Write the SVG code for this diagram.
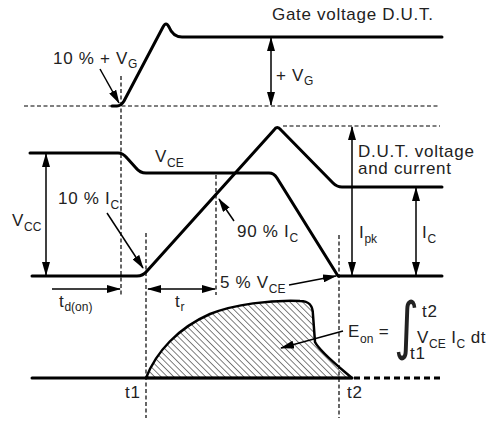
<svg xmlns="http://www.w3.org/2000/svg" width="492" height="422" viewBox="0 0 492 422">
<style>
.w{fill:none;stroke:#000;stroke-width:3;stroke-linejoin:round;stroke-linecap:round}
.d{fill:none;stroke:#000;stroke-width:1.2;stroke-dasharray:4 2.5}
.a{fill:none;stroke:#000;stroke-width:1.5;marker-end:url(#ah)}
.a2{fill:none;stroke:#000;stroke-width:1.5;marker-start:url(#ah);marker-end:url(#ah)}
text{font-family:"Liberation Sans",Arial,sans-serif;font-size:17px;fill:#222;letter-spacing:0.7px}
.s{font-size:12px;letter-spacing:0}
</style>
<defs>
<marker id="ah" markerUnits="userSpaceOnUse" markerWidth="14" markerHeight="8" refX="13" refY="4" orient="auto-start-reverse">
<path d="M0,0 L14,4 L0,8 Z" fill="#000"/>
</marker>
<pattern id="hatch" patternUnits="userSpaceOnUse" width="4.5" height="6" patternTransform="rotate(-45)">
<line x1="0" y1="0" x2="0" y2="6" stroke="#000" stroke-width="1"/>
</pattern>
</defs>

<g id="guides">
<line class="d" x1="24" y1="106" x2="440" y2="106"/>
<line class="d" x1="283" y1="126" x2="440" y2="126"/>
<line class="d" x1="121" y1="76" x2="121" y2="297"/>
<line class="d" x1="146" y1="233" x2="146" y2="418"/>
<line class="d" x1="216" y1="175" x2="216" y2="295"/>
<line class="d" x1="339" y1="235" x2="339" y2="418"/>
</g>

<g id="gate-voltage">
<path class="w" d="M112,106 L117,106 Q121,106 124,101 L163,27 Q166,21 169,27 Q173,37 182,37 L442,37"/>
</g>

<g id="vce">
<path class="w" d="M30,153 L118,153 Q123,153 127,158 L136,168 Q140,173 146,173 L269,173 Q274,173 277,178 L338,276 L442,276"/>
</g>

<g id="ic">
<path class="w" d="M32,276 L137,276 Q143,276 147,271 L274,130 Q277,125 281,130 L333,183 Q337,187 342,187 L442,187"/>
</g>

<g id="energy">
<path d="M146,378 C156,352 178,328 210,314 C235,304 270,300 300,301 C310,301 313,306 313,315 L315,342 C320,352 338,366 352,378 Z" fill="url(#hatch)" stroke="#000" stroke-width="2.5" stroke-linejoin="round"/>
<line class="w" x1="32" y1="378" x2="352" y2="378"/>
<line x1="354" y1="378" x2="440" y2="378" stroke="#000" stroke-width="3" stroke-dasharray="6 4"/>
</g>

<g id="connectors">
<line class="a2" x1="271" y1="38" x2="271" y2="105"/>
<line class="a2" x1="46" y1="154" x2="46" y2="275"/>
<line class="a2" x1="352" y1="127" x2="352" y2="275"/>
<line class="a2" x1="416" y1="188" x2="416" y2="275"/>
<line class="a2" x1="148" y1="289" x2="215" y2="289"/>
<line class="a" x1="52" y1="289" x2="120" y2="289"/>
<line class="a" x1="100" y1="69" x2="119" y2="103"/>
<line class="a" x1="107" y1="213" x2="143" y2="268"/>
<line class="a" x1="234" y1="221" x2="219" y2="199"/>
<line class="a" x1="289" y1="285" x2="336" y2="276"/>
<line class="a" x1="343" y1="331" x2="281" y2="348"/>
</g>

<g id="labels">
<text x="272" y="20">Gate voltage D.U.T.</text>
<text x="53" y="64">10 % + V<tspan class="s" dy="4">G</tspan></text>
<text x="276" y="81">+ V<tspan class="s" dy="4">G</tspan></text>
<text x="155" y="162">V<tspan class="s" dy="5">CE</tspan></text>
<text x="12" y="226">V<tspan class="s" dy="5">CC</tspan></text>
<text x="58" y="204">10 % I<tspan class="s" dy="5">C</tspan></text>
<text x="237" y="237">90 % I<tspan class="s" dy="5">C</tspan></text>
<text x="220" y="288">5 % V<tspan class="s" dy="5">CE</tspan></text>
<text x="59" y="307">t<tspan class="s" dy="4">d(on)</tspan></text>
<text x="175" y="307">t<tspan class="s" dy="4">r</tspan></text>
<text x="358" y="157">D.U.T. voltage</text>
<text x="358" y="174">and current</text>
<text x="359" y="238">I<tspan class="s" dy="5">pk</tspan></text>
<text x="422" y="238">I<tspan class="s" dy="5">C</tspan></text>
<text x="348" y="337">E<tspan class="s" dy="6">on</tspan><tspan dy="-6"> =</tspan></text>
<text transform="translate(394,346.5) scale(1,1.31)" style="font-family:'DejaVu Sans',sans-serif;font-size:48px;letter-spacing:0">∫</text>
<text x="422" y="317">t2</text>
<text x="417" y="343">V<tspan class="s" dy="5">CE</tspan><tspan dy="-5"> I</tspan><tspan class="s" dy="5">C</tspan><tspan dy="-5"> dt</tspan></text>
<text x="410" y="359">t1</text>
<text x="125" y="398">t1</text>
<text x="347" y="398">t2</text>
</g>
</svg>
